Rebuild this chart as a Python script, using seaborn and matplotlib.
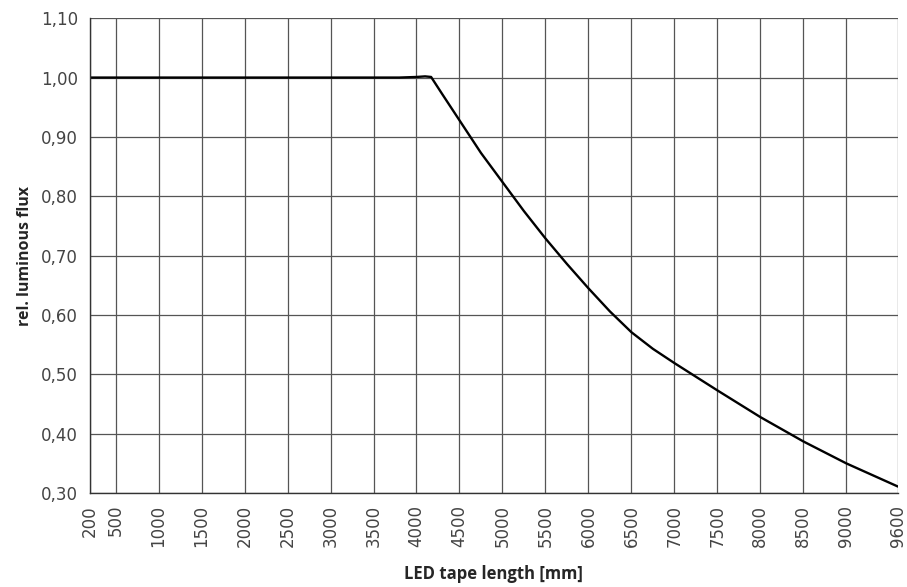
import numpy as np
import pandas as pd
import seaborn as sns
import matplotlib.pyplot as plt

# Values
length_mm = [200, 500, 1000, 1500, 2000, 2500, 3000, 3500, 3800, 4000, 4100, 4170,
             4300, 4500, 4750, 5000, 5250, 5500, 5750, 6000, 6250, 6500, 6750, 7000,
             7500, 8000, 8500, 9000, 9600]
rel_flux = [1.000, 1.000, 1.000, 1.000, 1.000, 1.000, 1.000, 1.000, 1.000, 1.001, 1.002, 1.001,
            0.972, 0.928, 0.873, 0.824, 0.775, 0.729, 0.686, 0.645, 0.606, 0.571, 0.543, 0.519,
            0.473, 0.428, 0.387, 0.350, 0.311]

x_ticks = [200, 500, 1000, 1500, 2000, 2500, 3000, 3500, 4000, 4500, 5000,
           5500, 6000, 6500, 7000, 7500, 8000, 8500, 9000, 9600]
y_ticks = [0.30, 0.40, 0.50, 0.60, 0.70, 0.80, 0.90, 1.00, 1.10]

df = pd.DataFrame({'length': length_mm, 'flux': rel_flux})

sns.set_style('white')
plt.rcParams['font.family'] = ['DejaVu Sans']

fig, ax = plt.subplots(figsize=(9.07, 5.87), dpi=100)
fig.subplots_adjust(left=0.099, right=0.990, top=0.969, bottom=0.160)

sns.lineplot(data=df, x='length', y='flux', ax=ax, color='black', linewidth=1.7)

ax.set_xlim(200, 9600)
ax.set_ylim(0.30, 1.10)
ax.set_xticks(x_ticks)
ax.set_xticklabels([str(v) for v in x_ticks], rotation=90)
ax.set_yticks(y_ticks)
ax.set_yticklabels([f'{v:.2f}'.replace('.', ',') for v in y_ticks])

ax.grid(True, color='#555555', linewidth=0.9)
ax.set_axisbelow(True)
for side in ['top', 'right']:
    ax.spines[side].set_visible(False)
for side in ['left', 'bottom']:
    ax.spines[side].set_color('#333333')
    ax.spines[side].set_linewidth(1.0)

ax.tick_params(axis='both', direction='out', length=4.5, width=0.8, color='#555555',
               labelsize=12, labelcolor='#444444', pad=4)

label_font = {'family': ['Open Sans', 'DejaVu Sans'], 'size': 12, 'weight': 'bold'}
ax.set_xlabel('LED tape length [mm]', fontdict=label_font, labelpad=13)
ax.set_ylabel('rel. luminous flux', fontdict=dict(label_font, size=11.5), labelpad=6)

plt.savefig('out.png', dpi=100)
